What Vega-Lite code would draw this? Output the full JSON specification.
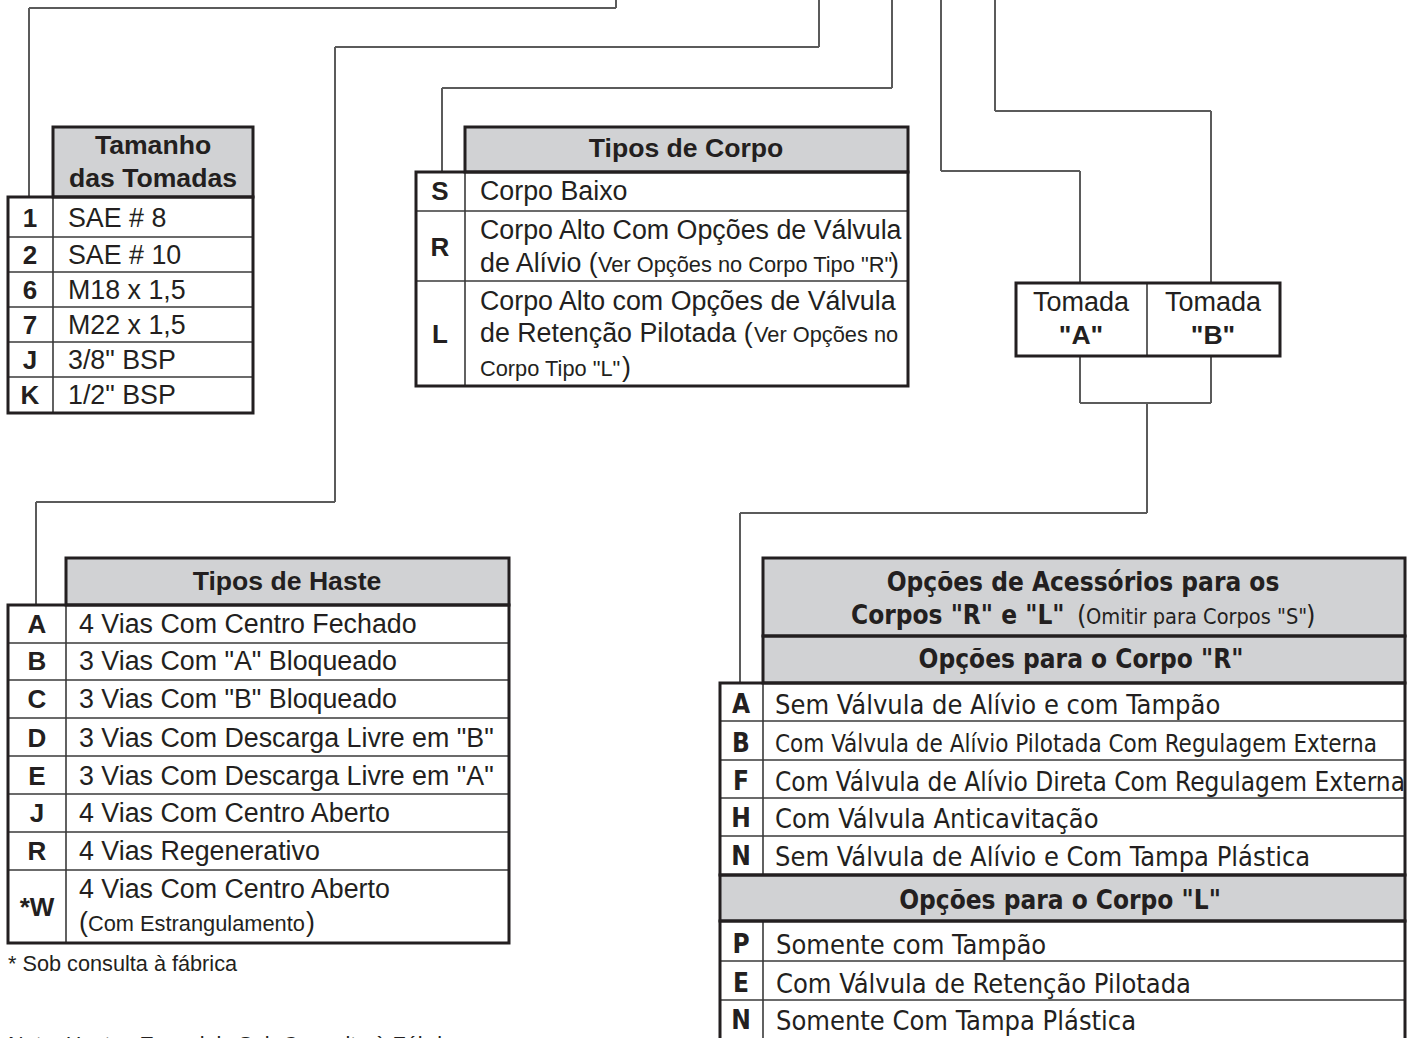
{
  "$schema": "https://vega.github.io/schema/vega-lite/v6.json",
  "width": 1411,
  "height": 1038,
  "padding": 0,
  "autosize": "none",
  "background": "white",
  "config": {"view": {"stroke": null}},
  "datasets": {
    "fills": [
      {"x": 53, "x2": 253, "y": 127, "y2": 197},
      {"x": 465, "x2": 908, "y": 127, "y2": 172},
      {"x": 66, "x2": 509, "y": 558, "y2": 605},
      {"x": 763, "x2": 1405, "y": 558, "y2": 636},
      {"x": 763, "x2": 1405, "y": 636, "y2": 683},
      {"x": 720, "x2": 1405, "y": 875, "y2": 921}
    ],
    "frames": [
      {"x": 53, "x2": 253, "y": 127, "y2": 197},
      {"x": 8, "x2": 253, "y": 197, "y2": 413},
      {"x": 465, "x2": 908, "y": 127, "y2": 172},
      {"x": 416, "x2": 908, "y": 172, "y2": 386},
      {"x": 1016, "x2": 1280, "y": 283, "y2": 356},
      {"x": 66, "x2": 509, "y": 558, "y2": 605},
      {"x": 8, "x2": 509, "y": 605, "y2": 943},
      {"x": 763, "x2": 1405, "y": 558, "y2": 636},
      {"x": 763, "x2": 1405, "y": 636, "y2": 683},
      {"x": 720, "x2": 1405, "y": 683, "y2": 875},
      {"x": 720, "x2": 1405, "y": 875, "y2": 921},
      {"x": 720, "x2": 1405, "y": 921, "y2": 1060}
    ],
    "grid": [
      {"x": 53, "x2": 53, "y": 197, "y2": 413},
      {"x": 8, "x2": 253, "y": 237, "y2": 237},
      {"x": 8, "x2": 253, "y": 272, "y2": 272},
      {"x": 8, "x2": 253, "y": 307, "y2": 307},
      {"x": 8, "x2": 253, "y": 342, "y2": 342},
      {"x": 8, "x2": 253, "y": 377, "y2": 377},
      {"x": 465, "x2": 465, "y": 172, "y2": 386},
      {"x": 416, "x2": 908, "y": 211, "y2": 211},
      {"x": 416, "x2": 908, "y": 281, "y2": 281},
      {"x": 1147, "x2": 1147, "y": 283, "y2": 356},
      {"x": 66, "x2": 66, "y": 605, "y2": 943},
      {"x": 8, "x2": 509, "y": 643, "y2": 643},
      {"x": 8, "x2": 509, "y": 680, "y2": 680},
      {"x": 8, "x2": 509, "y": 718, "y2": 718},
      {"x": 8, "x2": 509, "y": 756, "y2": 756},
      {"x": 8, "x2": 509, "y": 794, "y2": 794},
      {"x": 8, "x2": 509, "y": 832, "y2": 832},
      {"x": 8, "x2": 509, "y": 870, "y2": 870},
      {"x": 763, "x2": 763, "y": 683, "y2": 875},
      {"x": 720, "x2": 1405, "y": 721, "y2": 721},
      {"x": 720, "x2": 1405, "y": 760, "y2": 760},
      {"x": 720, "x2": 1405, "y": 798, "y2": 798},
      {"x": 720, "x2": 1405, "y": 836, "y2": 836},
      {"x": 763, "x2": 763, "y": 921, "y2": 1060},
      {"x": 720, "x2": 1405, "y": 961, "y2": 961},
      {"x": 720, "x2": 1405, "y": 1000, "y2": 1000}
    ],
    "connectors": [
      {"x": 616, "x2": 616, "y": 0, "y2": 8},
      {"x": 29, "x2": 616, "y": 8, "y2": 8},
      {"x": 29, "x2": 29, "y": 8, "y2": 197},
      {"x": 819, "x2": 819, "y": 0, "y2": 47},
      {"x": 335, "x2": 819, "y": 47, "y2": 47},
      {"x": 335, "x2": 335, "y": 47, "y2": 502},
      {"x": 36, "x2": 335, "y": 502, "y2": 502},
      {"x": 36, "x2": 36, "y": 502, "y2": 605},
      {"x": 892, "x2": 892, "y": 0, "y2": 88},
      {"x": 442, "x2": 892, "y": 88, "y2": 88},
      {"x": 442, "x2": 442, "y": 88, "y2": 172},
      {"x": 941, "x2": 941, "y": 0, "y2": 171},
      {"x": 941, "x2": 1080, "y": 171, "y2": 171},
      {"x": 1080, "x2": 1080, "y": 171, "y2": 283},
      {"x": 995, "x2": 995, "y": 0, "y2": 111},
      {"x": 995, "x2": 1211, "y": 111, "y2": 111},
      {"x": 1211, "x2": 1211, "y": 111, "y2": 283},
      {"x": 1080, "x2": 1080, "y": 356, "y2": 403},
      {"x": 1211, "x2": 1211, "y": 356, "y2": 403},
      {"x": 1080, "x2": 1211, "y": 403, "y2": 403},
      {"x": 1147, "x2": 1147, "y": 403, "y2": 513},
      {"x": 740, "x2": 1147, "y": 513, "y2": 513},
      {"x": 740, "x2": 740, "y": 513, "y2": 683}
    ],
    "codes": [
      {"x": 30, "y": 227, "t": "1"},
      {"x": 30, "y": 264, "t": "2"},
      {"x": 30, "y": 299, "t": "6"},
      {"x": 30, "y": 334, "t": "7"},
      {"x": 30, "y": 369, "t": "J"},
      {"x": 30, "y": 404, "t": "K"},
      {"x": 440, "y": 200, "t": "S"},
      {"x": 440, "y": 256, "t": "R"},
      {"x": 440, "y": 343, "t": "L"},
      {"x": 37, "y": 633, "t": "A"},
      {"x": 37, "y": 670, "t": "B"},
      {"x": 37, "y": 708, "t": "C"},
      {"x": 37, "y": 747, "t": "D"},
      {"x": 37, "y": 785, "t": "E"},
      {"x": 37, "y": 822, "t": "J"},
      {"x": 37, "y": 860, "t": "R"},
      {"x": 37, "y": 916, "t": "*W"}
    ],
    "heads": [
      {"x": 153, "y": 154, "t": "Tamanho"},
      {"x": 153, "y": 187, "t": "das Tomadas"},
      {"x": 686, "y": 157, "t": "Tipos de Corpo"},
      {"x": 287, "y": 590, "t": "Tipos de Haste"},
      {"x": 1081, "y": 344, "t": "\"A\""},
      {"x": 1213, "y": 344, "t": "\"B\""}
    ],
    "body": [
      {"x": 68, "y": 227, "t": "SAE # 8"},
      {"x": 68, "y": 264, "t": "SAE # 10"},
      {"x": 68, "y": 299, "t": "M18 x 1,5"},
      {"x": 68, "y": 334, "t": "M22 x 1,5"},
      {"x": 68, "y": 369, "t": "3/8\" BSP"},
      {"x": 68, "y": 404, "t": "1/2\" BSP"},
      {"x": 480, "y": 200, "t": "Corpo Baixo"},
      {"x": 480, "y": 239, "t": "Corpo Alto Com Opções de Válvula"},
      {"x": 480, "y": 272, "t": "de Alívio ("},
      {"x": 890, "y": 272, "t": ")"},
      {"x": 480, "y": 310, "t": "Corpo Alto com Opções de Válvula"},
      {"x": 480, "y": 342, "t": "de Retenção Pilotada ("},
      {"x": 622, "y": 376, "t": ")"},
      {"x": 79, "y": 633, "t": "4 Vias Com Centro Fechado"},
      {"x": 79, "y": 670, "t": "3 Vias Com \"A\" Bloqueado"},
      {"x": 79, "y": 708, "t": "3 Vias Com \"B\" Bloqueado"},
      {"x": 79, "y": 747, "t": "3 Vias Com Descarga Livre em \"B\""},
      {"x": 79, "y": 785, "t": "3 Vias Com Descarga Livre em \"A\""},
      {"x": 79, "y": 822, "t": "4 Vias Com Centro Aberto"},
      {"x": 79, "y": 860, "t": "4 Vias Regenerativo"},
      {"x": 79, "y": 898, "t": "4 Vias Com Centro Aberto"},
      {"x": 79, "y": 931, "t": "("},
      {"x": 306, "y": 931, "t": ")"}
    ],
    "small": [
      {"x": 598, "y": 272, "t": "Ver Opções no Corpo Tipo \"R\""},
      {"x": 754, "y": 342, "t": "Ver Opções no"},
      {"x": 480, "y": 376, "t": "Corpo Tipo \"L\""},
      {"x": 88, "y": 931, "t": "Com Estrangulamento"}
    ],
    "tomada": [
      {"x": 1081, "y": 311, "t": "Tomada"},
      {"x": 1213, "y": 311, "t": "Tomada"}
    ],
    "notes": [
      {"x": 8, "y": 971, "t": "* Sob consulta à fábrica"},
      {"x": 8, "y": 1052, "t": "Nota: Hastes Especiais Sob Consulta à Fábrica"}
    ],
    "narrow": [
      {"x": 775, "y": 714, "t": "Sem Válvula de Alívio e com Tampão"},
      {"x": 775, "y": 828, "t": "Com Válvula Anticavitação"},
      {"x": 775, "y": 866, "t": "Sem Válvula de Alívio e Com Tampa Plástica"},
      {"x": 776, "y": 954, "t": "Somente com Tampão"},
      {"x": 776, "y": 993, "t": "Com Válvula de Retenção Pilotada"},
      {"x": 776, "y": 1030, "t": "Somente Com Tampa Plástica"},
      {"x": 1077, "y": 624, "t": "("},
      {"x": 1306, "y": 624, "t": ")"}
    ],
    "narrowF": [
      {"x": 775, "y": 791, "t": "Com Válvula de Alívio Direta Com Regulagem Externa"}
    ],
    "narrowB": [
      {"x": 775, "y": 752, "t": "Com Válvula de Alívio Pilotada Com Regulagem Externa"}
    ],
    "narrowSmall": [
      {"x": 1086, "y": 624, "t": "Omitir para Corpos \"S\""}
    ],
    "narrowBoldCenter": [
      {"x": 1083, "y": 591, "t": "Opções de Acessórios para os"},
      {"x": 1081, "y": 668, "t": "Opções para o Corpo \"R\""},
      {"x": 1060, "y": 909, "t": "Opções para o Corpo \"L\""}
    ],
    "narrowCodes": [
      {"x": 741, "y": 713, "t": "A"},
      {"x": 741, "y": 752, "t": "B"},
      {"x": 741, "y": 790, "t": "F"},
      {"x": 741, "y": 827, "t": "H"},
      {"x": 741, "y": 865, "t": "N"},
      {"x": 741, "y": 953, "t": "P"},
      {"x": 741, "y": 992, "t": "E"},
      {"x": 741, "y": 1029, "t": "N"}
    ],
    "narrowBoldLeft": [
      {"x": 851, "y": 624, "t": "Corpos \"R\" e \"L\""}
    ]
  },
  "encoding": {
    "x": {"field": "x", "type": "quantitative", "scale": {"domain": [0, 1411], "nice": false, "zero": false}, "axis": null},
    "y": {"field": "y", "type": "quantitative", "scale": {"domain": [0, 1038], "nice": false, "zero": false, "reverse": true}, "axis": null}
  },
  "layer": [
    {
      "data": {"name": "fills"},
      "mark": {"type": "rect", "color": "#d1d2d4"},
      "encoding": {"x2": {"field": "x2"}, "y2": {"field": "y2"}}
    },
    {
      "data": {"name": "connectors"},
      "mark": {"type": "rule", "color": "#5b5b5b", "strokeWidth": 2},
      "encoding": {"x2": {"field": "x2"}, "y2": {"field": "y2"}}
    },
    {
      "data": {"name": "grid"},
      "mark": {"type": "rule", "color": "#3a3a3a", "strokeWidth": 1.6},
      "encoding": {"x2": {"field": "x2"}, "y2": {"field": "y2"}}
    },
    {
      "data": {"name": "frames"},
      "mark": {"type": "rect", "filled": false, "color": "#231f20", "strokeWidth": 3},
      "encoding": {"x2": {"field": "x2"}, "y2": {"field": "y2"}}
    },
    {
      "data": {"name": "codes"},
      "mark": {"type": "text", "font": "Liberation Sans", "fontSize": 26, "fontWeight": "bold", "align": "center", "baseline": "alphabetic", "color": "#231f20"},
      "encoding": {"text": {"field": "t"}}
    },
    {
      "data": {"name": "heads"},
      "mark": {"type": "text", "font": "Liberation Sans", "fontSize": 26.6, "fontWeight": "bold", "align": "center", "baseline": "alphabetic", "color": "#231f20"},
      "encoding": {"text": {"field": "t"}}
    },
    {
      "data": {"name": "body"},
      "mark": {"type": "text", "font": "Liberation Sans", "fontSize": 26.8, "align": "left", "baseline": "alphabetic", "color": "#231f20"},
      "encoding": {"text": {"field": "t"}}
    },
    {
      "data": {"name": "small"},
      "mark": {"type": "text", "font": "Liberation Sans", "fontSize": 21.8, "align": "left", "baseline": "alphabetic", "color": "#231f20"},
      "encoding": {"text": {"field": "t"}}
    },
    {
      "data": {"name": "tomada"},
      "mark": {"type": "text", "font": "Liberation Sans", "fontSize": 27, "align": "center", "baseline": "alphabetic", "color": "#231f20"},
      "encoding": {"text": {"field": "t"}}
    },
    {
      "data": {"name": "notes"},
      "mark": {"type": "text", "font": "Liberation Sans", "fontSize": 21.7, "align": "left", "baseline": "alphabetic", "color": "#231f20"},
      "encoding": {"text": {"field": "t"}}
    },
    {
      "data": {"name": "narrow"},
      "mark": {"type": "text", "font": "DejaVu Sans Condensed", "fontSize": 27, "align": "left", "baseline": "alphabetic", "color": "#231f20"},
      "encoding": {"text": {"field": "t"}}
    },
    {
      "data": {"name": "narrowF"},
      "mark": {"type": "text", "font": "DejaVu Sans Condensed", "fontSize": 26, "align": "left", "baseline": "alphabetic", "color": "#231f20"},
      "encoding": {"text": {"field": "t"}}
    },
    {
      "data": {"name": "narrowB"},
      "mark": {"type": "text", "font": "DejaVu Sans Condensed", "fontSize": 24, "align": "left", "baseline": "alphabetic", "color": "#231f20"},
      "encoding": {"text": {"field": "t"}}
    },
    {
      "data": {"name": "narrowSmall"},
      "mark": {"type": "text", "font": "DejaVu Sans Condensed", "fontSize": 21.6, "align": "left", "baseline": "alphabetic", "color": "#231f20"},
      "encoding": {"text": {"field": "t"}}
    },
    {
      "data": {"name": "narrowBoldCenter"},
      "mark": {"type": "text", "font": "DejaVu Sans Condensed", "fontSize": 26, "fontWeight": "bold", "align": "center", "baseline": "alphabetic", "color": "#231f20"},
      "encoding": {"text": {"field": "t"}}
    },
    {
      "data": {"name": "narrowCodes"},
      "mark": {"type": "text", "font": "DejaVu Sans Condensed", "fontSize": 26, "fontWeight": "bold", "align": "center", "baseline": "alphabetic", "color": "#231f20"},
      "encoding": {"text": {"field": "t"}}
    },
    {
      "data": {"name": "narrowBoldLeft"},
      "mark": {"type": "text", "font": "DejaVu Sans Condensed", "fontSize": 26, "fontWeight": "bold", "align": "left", "baseline": "alphabetic", "color": "#231f20"},
      "encoding": {"text": {"field": "t"}}
    }
  ]
}
